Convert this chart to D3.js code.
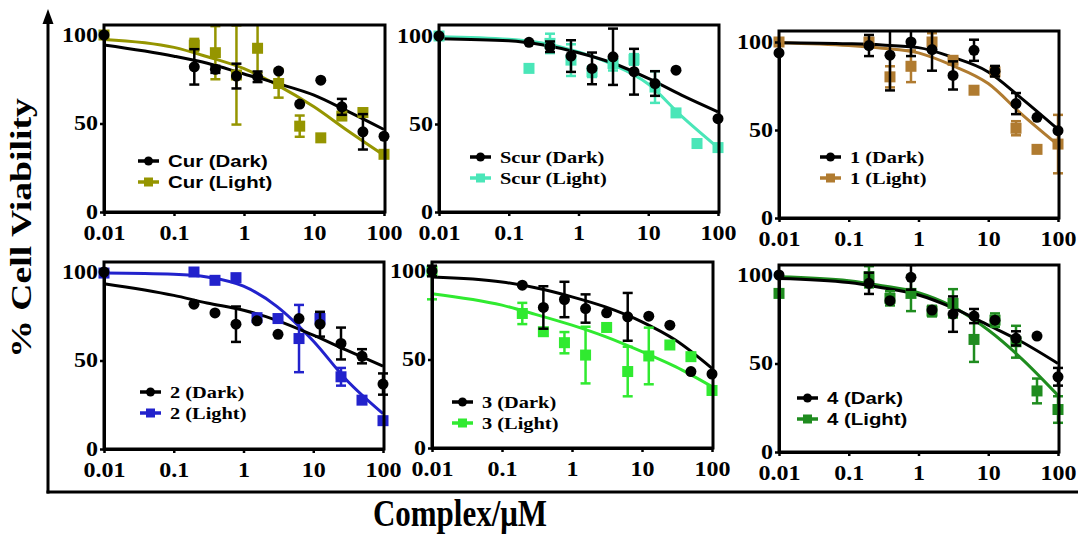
<!DOCTYPE html>
<html><head><meta charset="utf-8">
<script src="https://cdn.jsdelivr.net/npm/d3@7"></script>
<style>body{margin:0;background:#fff}svg{display:block}</style>
</head><body>
<svg id="c" width="1078" height="535"></svg>
<script>
// ---------------- DATA ----------------
const conc = [0.01, 0.195, 0.39, 0.78, 1.5625, 3.125, 6.25, 12.5, 25, 50, 100];
const fitConc = [0.01, 0.1, 0.3, 1, 3, 10, 30, 100];
const xTicks = [0.01, 0.1, 1, 10, 100];
const xTickLabels = ["0.01", "0.1", "1", "10", "100"];
const yTicks = [0, 50, 100];
const yTickLabels = ["0", "50", "100"];
const compounds = ["Cur", "Scur", "1", "2", "3", "4"];
const darkLabels = compounds.map(c => c + " (Dark)");
const lightLabels = compounds.map(c => c + " (Light)");

const darkMean = [
  [100, 82, 80.6, 76.8, 76.4, 79.6, 61, 74.5, 59.4, 45.3, 42.8],
  [100, 96.4, 93.9, 88.6, 81.6, 88.2, 79.7, 73, 80.6, null, 53],
  [93.8, 98, 92.5, 100, 95.7, 81, 95.3, 83.4, 65, 57.2, 49.6],
  [100, 81.8, 76.9, 70.5, 72.4, 64.8, 73.7, 70.5, 59.6, 52.4, 36.7],
  [100, 92, 79.4, 83.9, 78.8, 76.4, 74.1, 74.5, 69.4, 43.2, 41.8],
  [100, 95.3, 85.5, 98.7, 80.2, 77.9, 76.8, 74.5, 64.2, 65.5, 42.5]
];
const darkErr = [
  [0, 10, 2, 7, 3, 0, 0, 0, 4.5, 10, 0],
  [0, 0, 3, 9, 9, 16, 13, 7, 0, 0, 0],
  [0, 6, 20, 8, 12, 8, 6, 3, 6, 0, 0],
  [0, 0, 0, 10, 0, 0, 0, 7, 9, 4, 6],
  [3, 0, 12, 10, 8, 0, 13.5, 0, 0, 0, 0],
  [0, 6, 0, 7, 0, 10, 4, 0, 4, 0, 5]
];
const lightMean = [
  [100, 94.3, 90, 77.4, 92.5, 72.6, 48.5, 41.9, 54.2, 56.2, 32.6],
  [100, 81.6, 95.8, 86.3, 79.7, 84.4, 86.7, 71, 56.3, 38.9, 36.6],
  [100, 100, 80.2, 86.2, 100, 89.6, 72.6, 83, 51, 39, 42],
  [99.4, 100, 95.3, 96.8, 74.2, 73.7, 62.4, 73.7, 40.8, 27.6, 16],
  [100, 76, 65.7, 59.5, 52.5, 68.1, 43.2, 52, 58.2, 51.6, 32.5],
  [89.6, 99, 86.8, 89.6, 79.6, 84, 63.6, 74.5, 62.3, 34.5, 24]
];
const lightErr = [
  [0, 3.5, 15, 28, 14, 8, 6, 0, 2, 2, 0],
  [0, 0, 5.5, 9, 3, 4, 3, 9, 0, 0, 0],
  [0, 0, 6, 9, 5, 2, 0, 2, 4, 0, 16.6],
  [0, 0, 0, 0, 0, 0, 19, 3, 5, 0, 0],
  [16, 6, 0, 6, 16, 0, 14, 16, 0, 0, 0],
  [0, 6, 4, 10, 3, 8, 12.7, 3.8, 9, 7, 7.5]
];
// fitted curves at fitConc
const darkFit = [
  [94.3, 88, 84, 78, 72.6, 66, 57, 46.6],
  [98.5, 97.3, 95, 90.5, 84.8, 75.9, 66.4, 56.9],
  [99.6, 99, 98.3, 96.8, 91.5, 83, 68, 50.4],
  [93.4, 86.8, 82.5, 78.4, 72.7, 64.3, 55.8, 46.8],
  [96.6, 93.8, 90.5, 85.4, 79.7, 71.3, 61, 45],
  [98, 95.7, 92.8, 88.7, 81.7, 71.7, 62.3, 50]
];
const lightFit = [
  [97.5, 93, 87.7, 81, 71.7, 59.4, 46, 32],
  [99.6, 98.1, 96, 91, 84, 72.7, 54.5, 36.6],
  [99.6, 98, 96.5, 93.8, 86.8, 76.4, 59, 41.5],
  [99.4, 98.7, 97.2, 92, 80.6, 61, 39, 20],
  [87.2, 80.7, 75.5, 69.4, 62.9, 54.4, 46, 34.7],
  [99, 96.8, 94, 90, 82.4, 68.9, 52.8, 32]
];

// ---------------- STYLE / LAYOUT ----------------
const lightColors = ["#959500", "#4ae6b8", "#b07b30", "#2222cc", "#30ea30", "#1f8c1f"];
const legendSans = [true, false, false, false, false, true];
const layout = [
  {x0: 104, x1: 384, y0: 212, y100: 35, top: 25, lx: 138, ly: 161},
  {x0: 439, x1: 718, y0: 212, y100: 36, top: 25, lx: 470, ly: 157},
  {x0: 779, x1: 1058, y0: 218, y100: 42, top: 31, lx: 820, ly: 157},
  {x0: 104, x1: 383, y0: 449, y100: 272, top: 262, lx: 140, ly: 392},
  {x0: 432, x1: 712, y0: 448, y100: 271, top: 262, lx: 452, ly: 402},
  {x0: 779, x1: 1058, y0: 452, y100: 275, top: 265, lx: 797, ly: 398}
];
const serif = "'Liberation Serif','Times New Roman',serif";
const sans = "'Liberation Sans',Arial,sans-serif";

const svg = d3.select("#c");

function marker(g, cx, cy, shape, color, size) {
  if (shape === "circle") {
    g.append("circle").attr("cx", cx).attr("cy", cy).attr("r", size / 2).attr("fill", color);
  } else {
    g.append("rect").attr("x", cx - size / 2).attr("y", cy - size / 2)
      .attr("width", size).attr("height", size).attr("fill", color);
  }
}

layout.forEach((L, i) => {
  const g = svg.append("g");
  const x = d3.scaleLog().domain([0.01, 100]).range([L.x0, L.x1]);
  const y = d3.scaleLinear().domain([0, 100]).range([L.y0, L.y100]);

  const cid = "clip" + i;
  svg.append("clipPath").attr("id", cid).append("rect")
    .attr("x", L.x0 - 14).attr("y", L.top).attr("width", L.x1 - L.x0 + 28).attr("height", L.y0 - L.top + 14);

  const dg = g.append("g").attr("clip-path", `url(#${cid})`);
  const series = [
    {mean: lightMean[i], err: lightErr[i], fit: lightFit[i], color: lightColors[i], shape: "square", size: 11},
    {mean: darkMean[i], err: darkErr[i], fit: darkFit[i], color: "#000", shape: "circle", size: 11}
  ];
  const line = d3.line().x((d, j) => x(fitConc[j])).y(d => y(d)).curve(d3.curveMonotoneX);
  series.forEach(s => {
    dg.append("path").attr("d", line(s.fit)).attr("fill", "none")
      .attr("stroke", s.color).attr("stroke-width", 3);
  });
  series.forEach(s => {
    conc.forEach((c, j) => {
      const v = s.mean[j];
      if (v == null) return;
      const e = s.err[j];
      const cx = x(c);
      if (e > 0) {
        dg.append("line").attr("x1", cx).attr("x2", cx).attr("y1", y(v - e)).attr("y2", y(v + e))
          .attr("stroke", s.color).attr("stroke-width", 2.5);
        [v - e, v + e].forEach(t => {
          dg.append("line").attr("x1", cx - 5).attr("x2", cx + 5).attr("y1", y(t)).attr("y2", y(t))
            .attr("stroke", s.color).attr("stroke-width", 2.5);
        });
      }
      marker(dg, cx, y(v), s.shape, s.color, s.size);
    });
  });

  // box
  g.append("rect").attr("x", L.x0).attr("y", L.top).attr("width", L.x1 - L.x0 + 1).attr("height", L.y0 - L.top)
    .attr("fill", "none").attr("stroke", "#000").attr("stroke-width", 3);

  // axes
  const ax = g.append("g").attr("transform", `translate(0,${L.y0})`)
    .call(d3.axisBottom(x).tickValues(xTicks).tickFormat((d, k) => xTickLabels[k]).tickSize(4).tickSizeOuter(0).tickPadding(10));
  const ay = g.append("g").attr("transform", `translate(${L.x0},0)`)
    .call(d3.axisLeft(y).tickValues(yTicks).tickFormat((d, k) => yTickLabels[k]).tickSize(4).tickSizeOuter(0).tickPadding(1));
  [ax, ay].forEach(a => {
    a.select(".domain").attr("stroke", "#000").attr("stroke-width", 3);
    a.selectAll(".tick line").attr("stroke", "#000").attr("stroke-width", 2.5);
    a.selectAll(".tick text").attr("fill", "#000").attr("font-family", serif)
      .attr("font-weight", "bold").attr("font-size", 20).attr("transform", "scale(1.2,1)");
  });

  // legend
  const lg = g.append("g");
  [[darkLabels[i], "#000", "circle"], [lightLabels[i], lightColors[i], "square"]].forEach((r, k) => {
    const yy = L.ly + k * 21;
    lg.append("line").attr("x1", L.lx).attr("x2", L.lx + 21).attr("y1", yy).attr("y2", yy)
      .attr("stroke", r[1]).attr("stroke-width", 3.5);
    marker(lg, L.lx + 10.5, yy, r[2], r[1], 9);
    lg.append("text").attr("transform", `translate(${L.lx + 30},${yy}) scale(1.2,1)`)
      .attr("dy", "0.36em").attr("font-family", legendSans[i] ? sans : serif)
      .attr("font-weight", "bold").attr("font-size", 17).attr("fill", "#000").text(r[0]);
  });
});

// outer axes
svg.append("line").attr("x1", 48).attr("x2", 48).attr("y1", 493.5).attr("y2", 20)
  .attr("stroke", "#000").attr("stroke-width", 3);
svg.append("path").attr("d", "M48,9 L42.5,24 L53.5,24 Z").attr("fill", "#000");
svg.append("line").attr("x1", 46.5).attr("x2", 1078).attr("y1", 492).attr("y2", 492)
  .attr("stroke", "#000").attr("stroke-width", 3);

svg.append("text").attr("transform", "translate(31,228) rotate(-90) scale(1.3,1)")
  .attr("text-anchor", "middle").attr("font-family", serif).attr("font-weight", "bold")
  .attr("font-size", 29).attr("fill", "#000").text("% Cell Viability");
svg.append("text").attr("transform", "translate(460,526) scale(1,1.24)")
  .attr("text-anchor", "middle").attr("font-family", serif).attr("font-weight", "bold")
  .attr("font-size", 31).attr("fill", "#000").text("Complex/μM");
</script>
</body></html>
